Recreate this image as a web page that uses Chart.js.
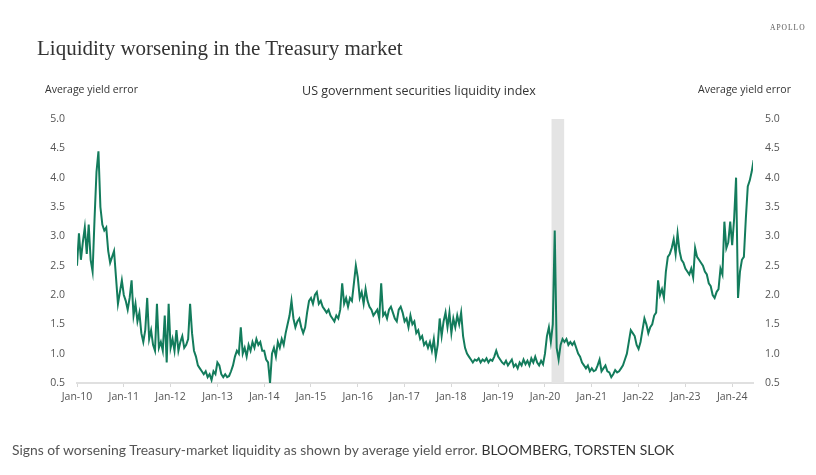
<!DOCTYPE html>
<html><head><meta charset="utf-8">
<script src="https://cdn.jsdelivr.net/npm/chart.js@4.4.1/dist/chart.umd.min.js"></script>
<style>
html,body{margin:0;padding:0;background:#fff;}
#wrap{position:relative;width:816px;height:475px;overflow:hidden;background:#fff;}
canvas{position:absolute;left:0;top:0;}
.t{position:absolute;white-space:nowrap;line-height:1;}
</style></head><body>
<div id="wrap">
<canvas id="c" width="816" height="475"></canvas>
<div class="t" style="left:770px;top:24px;font-family:'Liberation Serif';font-size:7.5px;letter-spacing:1px;color:#555">APOLLO</div>
<div class="t" style="left:37px;top:38px;font-family:'Liberation Serif';font-size:21px;color:#333">Liquidity worsening in the Treasury market</div>
<div class="t" style="left:45px;top:84px;font-family:'Open Sans';font-size:10.5px;color:#333">Average yield error</div>
<div class="t" style="left:0;width:838px;text-align:center;top:85px;font-family:'Open Sans';font-size:12.5px;color:#333">US government securities liquidity index</div>
<div class="t" style="left:698px;top:84px;font-family:'Open Sans';font-size:10.5px;color:#333">Average yield error</div>
<div class="t" style="left:12px;top:443px;font-family:'Lato';font-size:13.9px;color:#555">Signs of worsening Treasury-market liquidity as shown by average yield error. <span style="color:#333">BLOOMBERG, TORSTEN SLOK</span></div>
</div>
<script>
// ---- data ----
const startYear = 2010;
const pointsPerYear = 24;
const values = [
  // 2010
  2.5,3.05,2.6,2.9,3.15,2.7,3.2,2.6,2.4,3.3,4.1,4.45,3.5,3.2,3.1,3.15,2.75,2.55,2.65,2.75,2.3,1.85,2.05,2.25,
  // 2011
  2.0,1.9,1.75,1.95,2.25,1.65,1.85,1.55,1.7,1.35,1.2,1.4,1.95,1.25,1.4,1.15,1.05,1.85,1.1,1.2,1.05,1.65,0.85,1.85,
  // 2012
  1.1,1.25,1.05,1.4,1.05,1.2,1.3,1.1,1.15,1.25,1.85,1.35,1.05,0.95,0.8,0.75,0.7,0.65,0.7,0.6,0.65,0.55,0.7,0.65,
  // 2013
  0.85,0.8,0.65,0.6,0.65,0.6,0.62,0.7,0.8,0.95,1.05,1.0,1.45,1.0,1.1,0.95,1.15,1.05,1.2,1.1,1.25,1.15,1.2,1.05,
  // 2014
  1.05,0.9,0.85,0.5,1.0,1.1,0.95,1.2,1.1,1.25,1.15,1.35,1.5,1.65,1.9,1.6,1.45,1.55,1.6,1.45,1.35,1.45,1.7,1.9,
  // 2015
  1.95,1.85,2.0,2.05,1.85,1.9,1.8,1.75,1.7,1.75,1.65,1.6,1.55,1.65,1.6,1.75,2.2,1.85,1.95,1.8,1.95,1.9,2.2,2.5,
  // 2016
  2.3,1.95,2.05,1.85,2.1,1.9,1.8,1.75,1.65,1.7,1.75,1.6,2.2,1.65,1.7,1.6,1.75,1.8,1.7,1.6,1.55,1.75,1.8,1.7,
  // 2017
  1.55,1.6,1.45,1.65,1.5,1.55,1.35,1.4,1.25,1.3,1.15,1.2,1.1,1.2,1.05,1.25,0.95,1.15,1.6,1.3,1.55,1.7,1.45,1.7,
  // 2018
  1.35,1.6,1.45,1.65,1.5,1.7,1.3,1.1,1.0,0.95,0.9,0.85,0.9,0.88,0.92,0.85,0.9,0.87,0.92,0.85,0.9,0.88,0.95,1.05,
  // 2019
  0.95,0.9,0.85,0.82,0.88,0.8,0.85,0.9,0.78,0.82,0.75,0.85,0.8,0.9,0.82,0.88,0.8,0.92,0.85,0.95,0.85,0.8,0.88,0.82,
  // 2020
  1.0,1.3,1.45,1.2,1.5,3.1,1.1,0.9,1.15,1.25,1.2,1.25,1.15,1.2,1.15,1.2,1.1,1.0,0.95,0.85,0.8,0.75,0.8,0.7,
  // 2021
  0.75,0.7,0.72,0.8,0.9,0.7,0.75,0.8,0.7,0.68,0.6,0.65,0.72,0.68,0.7,0.75,0.8,0.9,1.0,1.2,1.4,1.35,1.3,1.15,
  // 2022
  1.08,1.2,1.4,1.6,1.5,1.35,1.45,1.5,1.65,1.7,2.25,2.0,2.1,1.95,2.4,2.65,2.7,2.8,2.95,2.7,3.05,2.75,2.6,2.55,
  // 2023
  2.45,2.4,2.35,2.45,2.3,2.8,2.65,2.6,2.55,2.5,2.4,2.35,2.2,2.15,2.0,1.95,2.05,2.1,2.45,2.35,3.25,2.8,2.9,3.25,
  // 2024
  2.85,3.3,4.0,1.95,2.4,2.6,2.65,3.3,3.85,3.95,4.1,4.3
];
const tickYears = [2010,2011,2012,2013,2014,2015,2016,2017,2018,2019,2020,2021,2022,2023,2024];
const tickLabels = ['Jan-10','Jan-11','Jan-12','Jan-13','Jan-14','Jan-15','Jan-16','Jan-17','Jan-18','Jan-19','Jan-20','Jan-21','Jan-22','Jan-23','Jan-24'];
const yTicks = [0.5,1.0,1.5,2.0,2.5,3.0,3.5,4.0,4.5,5.0];
const shadeStart = 2020.14;
const shadeEnd = 2020.41;
const xMin = 2010, xMax = 2024.445;

const points = values.map((v,i)=>({x: startYear + i/pointsPerYear, y: v}));

const shadePlugin = {
  id:'shade',
  beforeDatasetsDraw(chart){
    const {ctx, chartArea, scales} = chart;
    const x0 = scales.x.getPixelForValue(shadeStart);
    const x1 = scales.x.getPixelForValue(shadeEnd);
    ctx.save();
    ctx.fillStyle = '#e4e4e4';
    ctx.fillRect(x0, chartArea.top, x1-x0, chartArea.bottom-chartArea.top);
    ctx.restore();
  }
};

const tickFont = {family:'Open Sans', size:10.5};
new Chart(document.getElementById('c'), {
  type:'line',
  data:{datasets:[{data:points, borderColor:'#137c5c', borderWidth:2, pointRadius:0, tension:0, fill:false}]},
  options:{
    responsive:false, animation:false,
    layout:{padding:{top:119, left:0, right:0, bottom:0}},
    plugins:{legend:{display:false}, tooltip:{enabled:false}},
    scales:{
      x:{type:'linear', min:xMin, max:xMax,
        afterBuildTicks(s){ s.ticks = tickYears.map(v=>({value:v})); },
        afterFit(s){ s.height = 92; },
        grid:{display:true, drawOnChartArea:false, drawTicks:true, tickLength:4, color:'#d8d8d8', lineWidth:1},
        border:{display:true, color:'#e0e0e0', width:2},
        ticks:{font:tickFont, color:'#555', padding:4, maxRotation:0, autoSkip:false,
          callback(v){ const i = tickYears.indexOf(v); return i>=0 ? tickLabels[i] : ''; }}
      },
      y:{position:'left', min:0.5, max:5,
        afterBuildTicks(s){ s.ticks = yTicks.map(v=>({value:v})); },
        afterFit(s){ s.width = 77; },
        grid:{display:false, drawTicks:false}, border:{display:false},
        ticks:{font:tickFont, color:'#555', padding:12, callback(v){ return v.toFixed(1); }}
      },
      y2:{position:'right', min:0.5, max:5,
        afterBuildTicks(s){ s.ticks = yTicks.map(v=>({value:v})); },
        afterFit(s){ s.width = 63; },
        grid:{display:false, drawTicks:false}, border:{display:false},
        ticks:{font:tickFont, color:'#555', padding:12, callback(v){ return v.toFixed(1); }}
      }
    }
  },
  plugins:[shadePlugin]
});
</script>
</body></html>
